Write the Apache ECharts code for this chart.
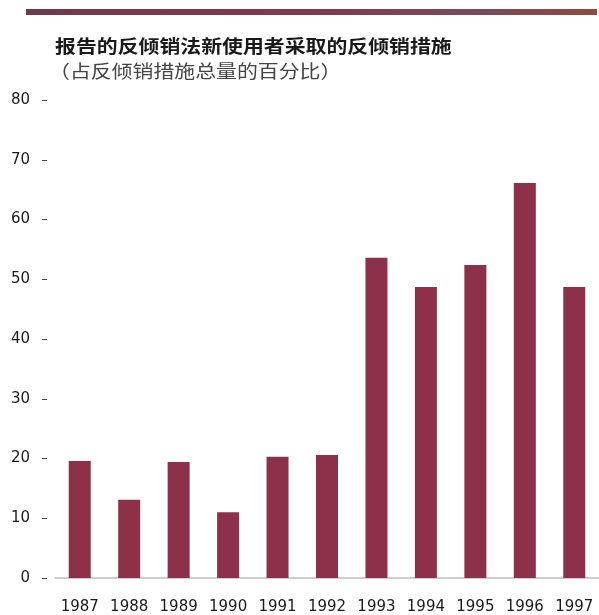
<!DOCTYPE html>
<html><head><meta charset="utf-8">
<script src="https://cdn.jsdelivr.net/npm/echarts@6/dist/echarts.min.js"></script>
<style>html,body{margin:0;padding:0;background:#fff}#c{width:599px;height:615px}</style>
</head><body><div id="c"></div>
<script>
const titleText = '报告的反倾销法新使用者采取的反倾销措施';
const subtitleText = '（占反倾销措施总量的百分比）';
const years = ['1987','1988','1989','1990','1991','1992','1993','1994','1995','1996','1997'];
const shares = [19.6, 13.1, 19.4, 11.0, 20.3, 20.6, 53.6, 48.7, 52.4, 66.1, 48.7];
const yTicks = [0, 10, 20, 30, 40, 50, 60, 70, 80];

const chart = echarts.init(document.getElementById('c'), null, {renderer:'canvas'});
chart.setOption({
  backgroundColor:'#fff',
  animation:false,
  graphic:[
    {type:'rect', shape:{x:26,y:9,width:571,height:6},
     style:{fill:new echarts.graphic.LinearGradient(0,0,1,0,[
       {offset:0,color:'#6e3a4a'},{offset:0.5,color:'#803a50'},{offset:0.8,color:'#7a4a5a'},{offset:1,color:'#8e4a42'}])}},
    {type:'text', x:55, y:37, scaleX:1.16, style:{text:titleText, font:'bold 18px "Noto Sans CJK SC"', fill:'#1a1a1a'}},
    {type:'text', x:49, y:62, scaleX:1.16, style:{text:subtitleText, font:'18px "Noto Sans CJK SC"', fill:'#444'}}
  ],
  grid:{left:55, right:-6, top:100, bottom:37, containLabel:false},
  xAxis:{type:'category', data:years, boundaryGap:true,
    axisLine:{show:true, lineStyle:{color:'#bdbdbd', width:1.5}},
    axisTick:{show:false},
    axisLabel:{color:'#1a1a1a', fontSize:15, fontFamily:'DejaVu Sans', margin:22, interval:0}},
  yAxis:{type:'value', min:0, max:80, interval:10, offset:8,
    axisLine:{show:false},
    axisTick:{show:true, length:5, lineStyle:{color:'#444'}},
    splitLine:{show:false},
    axisLabel:{color:'#1a1a1a', fontSize:15, fontFamily:'DejaVu Sans', margin:17,
      formatter:v=>yTicks.includes(v)?String(v):''}},
  series:[{type:'bar', data:shares, barWidth:22,
    itemStyle:{color:'#8c3149'}}]
});
</script></body></html>
